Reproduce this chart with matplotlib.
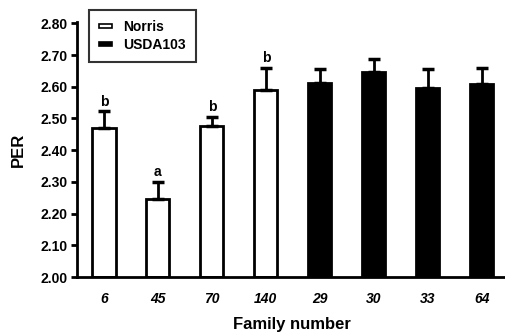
import matplotlib
matplotlib.use("Agg")
import matplotlib.pyplot as plt
from matplotlib.patches import Patch

families = ["6", "45", "70", "140", "29", "30", "33", "64"]
groups = ["Norris", "Norris", "Norris", "Norris", "USDA103", "USDA103", "USDA103", "USDA103"]
per = [2.47, 2.245, 2.475, 2.59, 2.613, 2.648, 2.597, 2.609]
err = [0.052, 0.055, 0.03, 0.07, 0.042, 0.038, 0.058, 0.049]
letters = ["b", "a", "b", "b", "", "", "", ""]

plt.rcParams['font.family'] = ['Liberation Sans', 'DejaVu Sans']
plt.rcParams['font.weight'] = 'bold'

fig = plt.figure(figsize=(5.06, 3.33), dpi=100)
ax = fig.add_axes([0.152, 0.168, 0.848, 0.762])

x = list(range(len(families)))
colors = ["white" if g == "Norris" else "black" for g in groups]
ax.bar(x, [p - 2.0 for p in per], bottom=2.0, width=0.43, color=colors,
       edgecolor="black", linewidth=2, zorder=2)
ax.errorbar(x, per, yerr=[[0] * len(err), err], fmt="none", ecolor="black",
            elinewidth=2, capsize=4, capthick=2.5, zorder=3)
for xi, p, e, l in zip(x, per, err, letters):
    if l:
        ax.text(xi, p + e + 0.008, l, ha="center", va="bottom", fontsize=10,
                fontweight="bold")

ax.set_ylim(2.0, 2.8)
ax.set_xlim(-0.5, 7.45)
ax.set_yticks([2.0 + 0.1 * i for i in range(9)])
ax.set_yticklabels([f"{2.0 + 0.1 * i:.2f}" for i in range(9)], fontsize=10,
                   fontweight="bold")
ax.set_xticks(x)
ax.set_xticklabels(families, fontsize=10, fontweight="bold", style="italic")
ax.tick_params(axis="x", length=0, pad=11)
ax.tick_params(axis="y", length=4, width=2, direction="out", pad=3)
for s in ["top", "right"]:
    ax.spines[s].set_visible(False)
for s in ["left", "bottom"]:
    ax.spines[s].set_linewidth(2)
ax.spines["left"].set_bounds(2.0, 2.805)

ax.set_xlabel("Family number", fontsize=12, fontweight="bold", labelpad=8)
ax.set_ylabel("PER", fontsize=12, fontweight="bold", labelpad=10)

handles = [Patch(facecolor="white", edgecolor="black", linewidth=1.2, label="Norris"),
           Patch(facecolor="black", edgecolor="black", linewidth=1.2, label="USDA103")]
leg = ax.legend(handles=handles, loc="upper left", bbox_to_anchor=(0.028, 1.053),
                frameon=True, fancybox=False, edgecolor="black", fontsize=10,
                handlelength=0.9, handleheight=0.08, handletextpad=0.8,
                borderpad=0.75, labelspacing=0.25, borderaxespad=0)
leg.get_frame().set_linewidth(1.5)
for t in leg.get_texts():
    t.set_fontweight("bold")

fig.savefig("out.png", dpi=100)
